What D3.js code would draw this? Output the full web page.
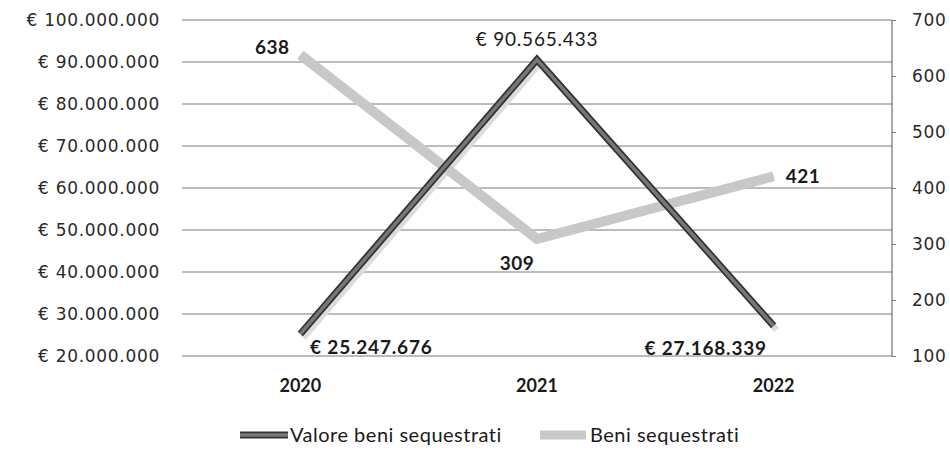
<!DOCTYPE html>
<html>
<head>
<meta charset="utf-8">
<script src="https://cdn.jsdelivr.net/npm/d3@7"></script>
<style>
  body { margin: 0; background: #fff; }
  svg { display: block; }
</style>
</head>
<body>
<script>
// data
var years = ["2020", "2021", "2022"];
var valore = [25247676, 90565433, 27168339];
var beni = [638, 309, 421];
var leftTicks = [20000000, 30000000, 40000000, 50000000, 60000000, 70000000, 80000000, 90000000, 100000000];
var rightTicks = [100, 200, 300, 400, 500, 600, 700];
var seriesNames = ["Valore beni sequestrati", "Beni sequestrati"];

var W = 950, H = 468;
// plot box (note: "top" is reserved on window, so prefixed)
var pLeft = 182, pRight = 892, pTop = 20, pBottom = 356;

var svg = d3.select("body").append("svg")
    .attr("width", W)
    .attr("height", H);

var x = d3.scaleBand().domain(years).range([pLeft, pRight]);
var yL = d3.scaleLinear().domain([20000000, 100000000]).range([pBottom, pTop]);
var yR = d3.scaleLinear().domain([100, 700]).range([pBottom, pTop]);

var euro = function(v){
  return "\u20ac " + d3.format(",")(v).replace(/,/g, ".");
};

// gridlines + left axis labels
svg.append("g").selectAll("line")
    .data(leftTicks)
  .enter().append("line")
    .attr("x1", pLeft).attr("x2", pRight)
    .attr("y1", d => yL(d)).attr("y2", d => yL(d))
    .attr("stroke", "#7a7a7a")
    .attr("stroke-width", 1);

svg.append("g").selectAll("text")
    .data(leftTicks)
  .enter().append("text")
    .attr("x", 160)
    .attr("y", d => yL(d))
    .attr("dy", "0.35em")
    .attr("text-anchor", "end")
    .attr("font-family", "DejaVu Sans")
    .attr("font-size", 17)
    .attr("letter-spacing", 0.7)
    .attr("fill", "#2a2a2a")
    .text(d => euro(d));

// right axis
var rAxis = svg.append("g")
    .attr("transform", "translate(" + pRight + ",0)")
    .call(d3.axisRight(yR).tickValues(rightTicks).tickSize(4).tickPadding(16).tickFormat(d3.format("d")));
rAxis.select(".domain").attr("stroke", "#555").attr("d", "M0," + pTop + "V" + pBottom);
rAxis.selectAll(".tick line").attr("stroke", "#777");
rAxis.selectAll("text")
    .attr("font-family", "DejaVu Sans")
    .attr("font-size", 17)
    .attr("letter-spacing", 0.7)
    .attr("fill", "#2a2a2a");

// category labels
svg.append("g").selectAll("text")
    .data(years)
  .enter().append("text")
    .attr("x", d => x(d) + x.bandwidth() / 2)
    .attr("y", 392)
    .attr("text-anchor", "middle")
    .attr("font-family", "Lato")
    .attr("font-weight", "bold")
    .attr("font-size", 18)
    .attr("fill", "#1a1a1a")
    .text(d => d);

var cx = (d, i) => x(years[i]) + x.bandwidth() / 2;

var lineL = d3.line().x(cx).y(d => yL(d));
var lineR = d3.line().x(cx).y(d => yR(d));

// shadows
svg.append("path").datum(valore)
    .attr("d", lineL).attr("transform", "translate(3,4)")
    .attr("fill", "none").attr("stroke", "#dcdcdc").attr("stroke-width", 6);

// light series
svg.append("path").datum(beni)
    .attr("d", lineR)
    .attr("fill", "none")
    .attr("stroke", "#c8c8c8")
    .attr("stroke-width", 10)
    .attr("stroke-linejoin", "round");

// dark series
svg.append("path").datum(valore)
    .attr("d", lineL)
    .attr("fill", "none")
    .attr("stroke", "#333")
    .attr("stroke-width", 7)
    .attr("stroke-linejoin", "miter");
svg.append("path").datum(valore)
    .attr("d", lineL)
    .attr("fill", "none")
    .attr("stroke", "#777")
    .attr("stroke-width", 3.5)
    .attr("stroke-linejoin", "miter");

// data labels
var labelOff = [[71, 13, "bold"], [0, -20, "normal"], [-68, 22, "bold"]];
svg.append("g").selectAll("text")
    .data(valore)
  .enter().append("text")
    .attr("x", (d, i) => cx(d, i) + labelOff[i][0])
    .attr("y", (d, i) => yL(d) + labelOff[i][1])
    .attr("dy", "0.35em")
    .attr("text-anchor", "middle")
    .attr("font-family", "Lato")
    .attr("font-weight", (d, i) => labelOff[i][2])
    .attr("font-size", 19)
    .attr("letter-spacing", 0.8)
    .attr("fill", "#1a1a1a")
    .text(d => euro(d));

var beniOff = [[-28, -7], [-20, 24], [12, 0]];
svg.append("g").selectAll("text")
    .data(beni)
  .enter().append("text")
    .attr("x", (d, i) => cx(d, i) + beniOff[i][0])
    .attr("y", (d, i) => yR(d) + beniOff[i][1])
    .attr("dy", "0.35em")
    .attr("text-anchor", (d, i) => i == 2 ? "start" : "middle")
    .attr("font-family", "Lato")
    .attr("font-weight", "bold")
    .attr("font-size", 19)
    .attr("letter-spacing", 0.5)
    .attr("fill", "#1a1a1a")
    .text(d => d);

// legend
var legend = svg.append("g");
var legX = [240, 540];
seriesNames.forEach(function(name, i){
  var g = legend.append("g").attr("transform", "translate(" + legX[i] + ",435)");
  if(i == 0){
    g.append("line").attr("x1", 0).attr("x2", 48).attr("stroke", "#333").attr("stroke-width", 7);
    g.append("line").attr("x1", 0).attr("x2", 48).attr("stroke", "#777").attr("stroke-width", 3.5);
  } else {
    g.append("line").attr("x1", 0).attr("x2", 46).attr("stroke", "#c8c8c8").attr("stroke-width", 9);
  }
  g.append("text")
    .attr("x", 50)
    .attr("dy", "0.35em")
    .attr("font-family", "Lato")
    .attr("font-size", 20)
    .attr("letter-spacing", 0.5)
    .attr("fill", "#1a1a1a")
    .text(name);
});
</script>
</body>
</html>
